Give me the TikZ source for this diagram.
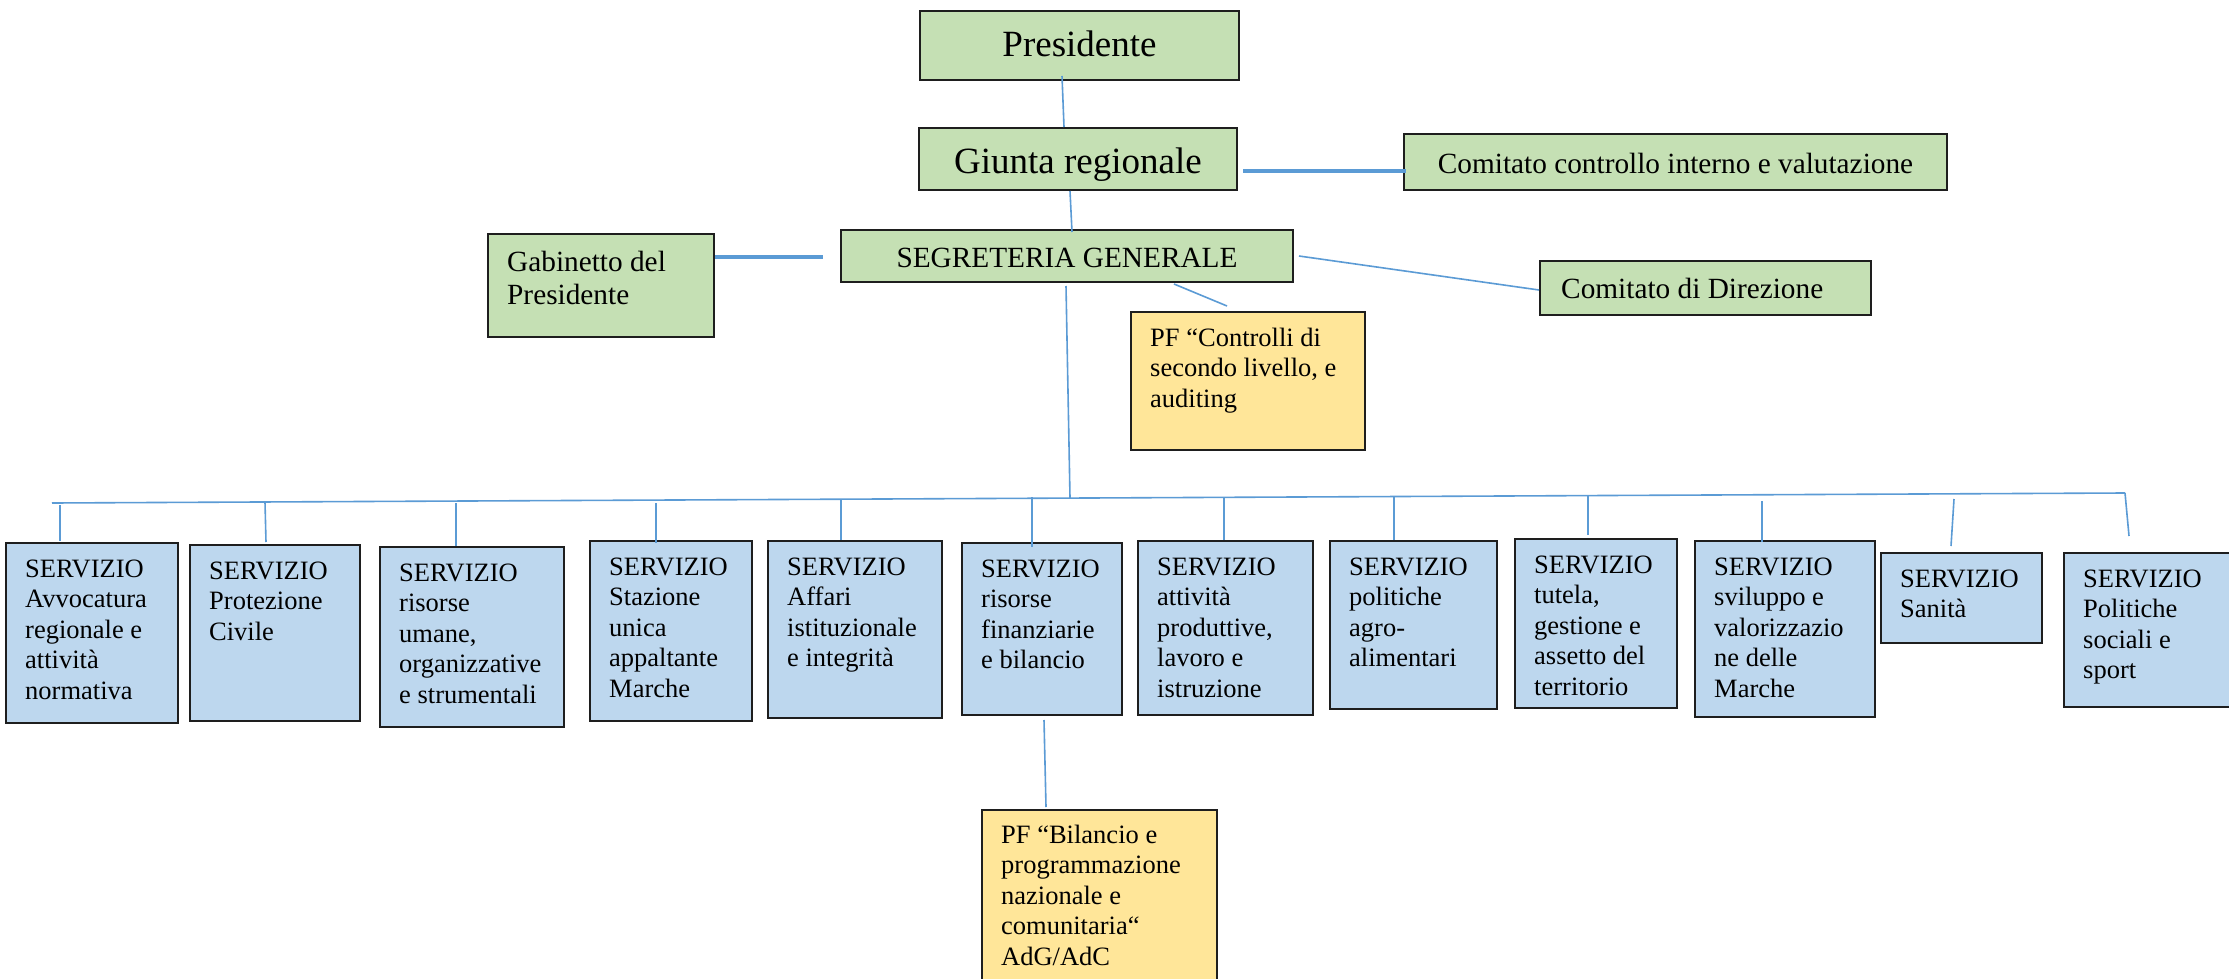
\documentclass[tikz,border=0pt]{standalone}
\usepackage{fontspec}
\setmainfont{Liberation Serif}
\usetikzlibrary{fit,calc}
\definecolor{gfill}{RGB}{197,224,180}
\definecolor{sfill}{RGB}{189,215,238}
\definecolor{yfill}{RGB}{255,230,153}
\definecolor{conncol}{RGB}{91,155,213}
\definecolor{edgecol}{RGB}{30,30,30}
\begin{document}
\begin{tikzpicture}[x=1pt,y=-1pt,
  boxbase/.style={draw=edgecol, line width=2pt, inner sep=0pt},
  gbox/.style={boxbase, fill=gfill},
  sbox/.style={boxbase, fill=sfill},
  ybox/.style={boxbase, fill=yfill},
  conn/.style={draw=conncol, line width=1.6pt},
  thickconn/.style={draw=conncol, line width=3.4pt},
  bigtxt/.style={font=\fontsize{37}{42}\selectfont, inner sep=0pt, anchor=base},
  midtxt/.style={font=\fontsize{29.3}{33.5}\selectfont, inner sep=0pt, align=left},
  smalltxt/.style={font=\fontsize{26.5}{30.5}\selectfont, inner sep=0pt, align=left, anchor=north west},
]
\useasboundingbox[fill=white] (0,0) rectangle (2229,979);

% top boxes
\node[gbox, fit={(920,11)(1239,80)}] (pres) {};
\node[gbox, fit={(919,128)(1237,190)}] (giunta) {};
\node[gbox, fit={(841,230)(1293,282)}] (segr) {};
\node[gbox, fit={(488,234)(714,337)}] (gab) {};
\node[gbox, fit={(1404,134)(1947,190)}] (ccontr) {};
\node[gbox, fit={(1540,261)(1871,315)}] (cdir) {};
\node[ybox, fit={(1131,312)(1365,450)}] (pfc) {};

\node[bigtxt] (prest) at (1079.5,57) {Presidente};
\node[bigtxt] (giuntat) at (1078,173) {Giunta regionale};
\node[midtxt, anchor=base] (segrt) at (1067,267) {SEGRETERIA GENERALE};
\node[midtxt, anchor=base] (ccontrt) at (1675.5,173) {Comitato controllo interno e valutazione};
\node[midtxt, anchor=base west] (cdirt) at (1561,298) {Comitato di Direzione};
\node[midtxt, anchor=north west] (gabt) at ($(gab.north west)+(20,14.5)$) {\strut Gabinetto del\\Presidente};
\node[smalltxt] (pfct) at ($(pfc.north west)+(20,13.65)$) {\strut PF “Controlli di\\secondo livello, e\\auditing};

% servizi
\node[sbox, fit={(6,543)(178,723)}] (s1) {};
\node[sbox, fit={(190,545)(360,721)}] (s2) {};
\node[sbox, fit={(380,547)(564,727)}] (s3) {};
\node[sbox, fit={(590,541)(752,721)}] (s4) {};
\node[sbox, fit={(768,541)(942,718)}] (s5) {};
\node[sbox, fit={(962,543)(1122,715)}] (s6) {};
\node[sbox, fit={(1138,541)(1313,715)}] (s7) {};
\node[sbox, fit={(1330,541)(1497,709)}] (s8) {};
\node[sbox, fit={(1515,539)(1677,708)}] (s9) {};
\node[sbox, fit={(1695,541)(1875,717)}] (s10) {};
\node[sbox, fit={(1881,553)(2042,643)}] (s11) {};
\node[sbox, fit={(2064,553)(2240,707)}] (s12) {};
\node[ybox, fit={(982,810)(1217,992)}] (pfb) {};

\node[smalltxt] (s1t) at ($(s1.north west)+(20,13.65)$) {\strut SERVIZIO\\Avvocatura\\regionale e\\attività\\normativa};
\node[smalltxt] (s2t) at ($(s2.north west)+(20,13.65)$) {\strut SERVIZIO\\Protezione\\Civile};
\node[smalltxt] (s3t) at ($(s3.north west)+(20,13.65)$) {\strut SERVIZIO\\risorse\\umane,\\organizzative\\e strumentali};
\node[smalltxt] (s4t) at ($(s4.north west)+(20,13.65)$) {\strut SERVIZIO\\Stazione\\unica\\appaltante\\Marche};
\node[smalltxt] (s5t) at ($(s5.north west)+(20,13.65)$) {\strut SERVIZIO\\Affari\\istituzionale\\e integrità};
\node[smalltxt] (s6t) at ($(s6.north west)+(20,13.65)$) {\strut SERVIZIO\\risorse\\finanziarie\\e bilancio};
\node[smalltxt] (s7t) at ($(s7.north west)+(20,13.65)$) {\strut SERVIZIO\\attività\\produttive,\\lavoro e\\istruzione};
\node[smalltxt] (s8t) at ($(s8.north west)+(20,13.65)$) {\strut SERVIZIO\\politiche\\agro-\\alimentari};
\node[smalltxt] (s9t) at ($(s9.north west)+(20,13.65)$) {\strut SERVIZIO\\tutela,\\gestione e\\assetto del\\territorio};
\node[smalltxt] (s10t) at ($(s10.north west)+(20,13.65)$) {\strut SERVIZIO\\sviluppo e\\valorizzazio\\ne delle\\Marche};
\node[smalltxt] (s11t) at ($(s11.north west)+(20,13.65)$) {\strut SERVIZIO\\Sanità};
\node[smalltxt] (s12t) at ($(s12.north west)+(20,13.65)$) {\strut SERVIZIO\\Politiche\\sociali e\\sport};
\node[smalltxt] (pfbt) at ($(pfb.north west)+(20,12.65)$) {\strut PF “Bilancio e\\programmazione\\nazionale e\\comunitaria“\\AdG/AdC};

% connectors, top part
\draw[conn] ($(pres.south)+(-17.5,-5)$) -- ($(giunta.north)+(-14,0)$);
\draw[conn] ($(giunta.south)+(-8,0)$) -- ($(segr.north)+(5,3)$);
\draw[thickconn] ($(gab.north east)+(0,24)$) -- ($(segr.north west)+(-17,28)$);
\draw[thickconn] ($(giunta.north east)+(5,44)$) -- ($(ccontr.north west)+(3,38)$);
\draw[conn] ($(segr.east)+(5,0)$) -- ($(cdir.west)+(0,2)$);
\draw[conn] ($(segr.south)+(107,1)$) -- ($(pfc.north)+(-21,-5)$);

% bus
\coordinate (busL) at (52,503);
\coordinate (busR) at (2125,493);
\coordinate (busM) at (1070,498);
\draw[conn] (busL) -- (busR);
\draw[conn] ($(segr.south)+(-1,3)$) -- (busM);

\coordinate (d1) at (60,505);
\coordinate (d2) at (265,502);
\coordinate (d3) at (456,503);
\coordinate (d4) at (656,503);
\coordinate (d5) at (841,499);
\coordinate (d6) at (1032,497);
\coordinate (d7) at (1224,497);
\coordinate (d8) at (1394,497);
\coordinate (d9) at (1588,496);
\coordinate (d10) at (1762,501);
\coordinate (d11) at (1954,499);

\draw[conn] (d1) -- ($(d1 |- s1.north)+(0,-1)$);
\draw[conn] (d2) -- ($(d2 |- s2.north)+(1,-2)$);
\draw[conn] (d3) -- (d3 |- s3.north);
\draw[conn] (d4) -- ($(d4 |- s4.north)+(0,3)$);
\draw[conn] (d5) -- (d5 |- s5.north);
\draw[conn] (d6) -- ($(d6 |- s6.north)+(0,5)$);
\draw[conn] (d7) -- (d7 |- s7.north);
\draw[conn] (d8) -- (d8 |- s8.north);
\draw[conn] (d9) -- ($(d9 |- s9.north)+(0,-3)$);
\draw[conn] (d10) -- ($(d10 |- s10.north)+(0,2)$);
\draw[conn] (d11) -- ($(s11.north)+(-10.5,-6)$);
\draw[conn] (busR) -- ($(s12.north)+(-23,-16)$);

\draw[conn] ($(s6.south)+(2,4)$) -- ($(pfb.north)+(-53.5,-2)$);
\end{tikzpicture}
\end{document}
